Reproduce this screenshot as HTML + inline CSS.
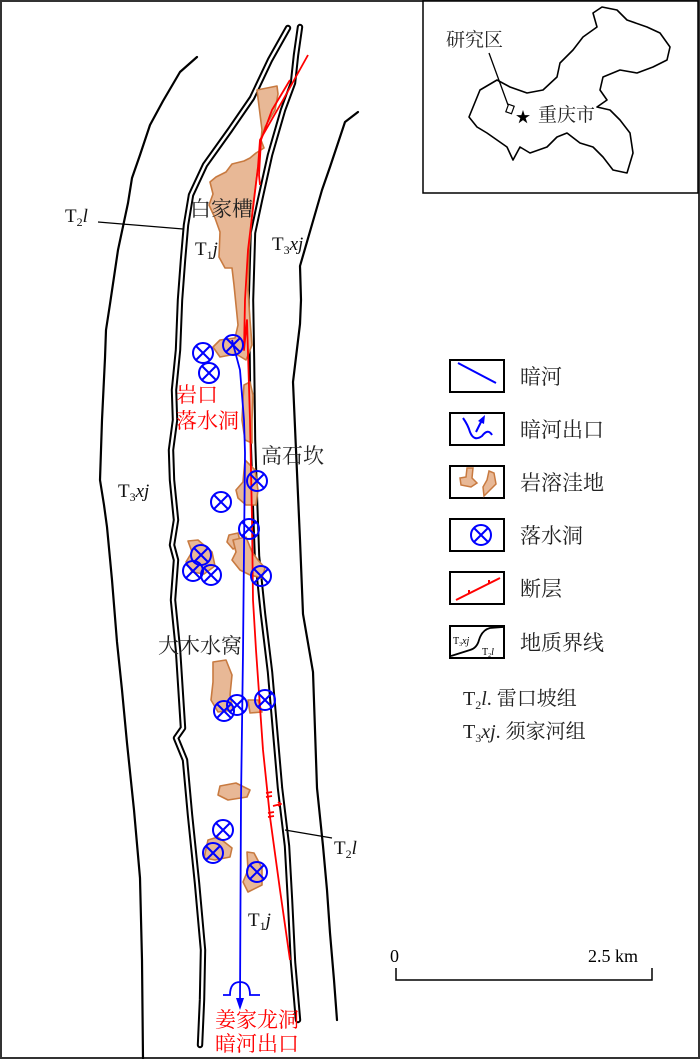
<!DOCTYPE html>
<html><head><meta charset="utf-8"><style>
html,body{margin:0;padding:0;background:#fff}
svg{display:block}
text{font-family:"Liberation Serif","Noto Serif CJK SC","Noto Sans CJK SC",serif}
.cn{font-family:"Liberation Serif","Noto Serif CJK SC",serif}
</style></head><body>
<svg width="700" height="1059" viewBox="0 0 700 1059" xmlns="http://www.w3.org/2000/svg">
<rect x="1" y="1" width="698" height="1057" fill="#fff" stroke="#333" stroke-width="2"/>
<g fill="none" stroke="#000" stroke-linejoin="round" stroke-linecap="round">
<polyline stroke-width="2.2" points="197,57 180,72 163,101 150,125 140,155 132,178 128,203 118,250 110,304 106,330 105,358 102,420 100,480 104,505 107,527 112,580 117,642 122,690 127,743 134,810 140,878 142,960 143,1059"/>
<polyline stroke-width="2.2" points="358,112 345,122 330,167 322,190 300,266 301,300 300,324 293,382 296,450 300,540 303,614 313,672 315,730 317,788 323,846 327,890 330,933 334,980 337,1020"/>
<polyline stroke-width="6.4" points="288,28 270,60 252,98 230,130 205,165 191,195 186,225 183,260 180,300 178,350 174,390 175,420 171,450 172,480 176,520 172,545 176,560 173,600 178,650 183,728 176,738 185,760 190,815 197,883 203,950 202,1000 200,1045"/>
<polyline stroke="#fff" stroke-width="2.4" points="288,28 270,60 252,98 230,130 205,165 191,195 186,225 183,260 180,300 178,350 174,390 175,420 171,450 172,480 176,520 172,545 176,560 173,600 178,650 183,728 176,738 185,760 190,815 197,883 203,950 202,1000 200,1045"/>
<polyline stroke-width="6.4" points="300,27 296,55 293,83 283,110 270,155 260,200 253,233 251,300 252,360 253,440 255,500 257,556 263,614 270,672 275,730 280,788 287,846 290,900 293,962 298,1020"/>
<polyline stroke="#fff" stroke-width="2.4" points="300,27 296,55 293,83 283,110 270,155 260,200 253,233 251,300 252,360 253,440 255,500 257,556 263,614 270,672 275,730 280,788 287,846 290,900 293,962 298,1020"/>
</g>
<g fill="#e8b896" stroke="#c87a40" stroke-width="1.6" stroke-linejoin="round">
<path d="M257,90 L277,86 L278,94 L275,110 L265,127 L261,140 L264,148 L256,153 L250,158 L244,161 L232,164 L226,172 L216,177 L210,182 L213,194 L209,205 L215,218 L220,232 L219,257 L225,268 L232,268 L234,285 L236,305 L238,325 L235,338 L220,340 L213,347 L220,357 L236,354 L246,360 L252,345 L250,320 L248,290 L249,250 L252,215 L255,190 L258,167 L260,150 L262,130 Z"/>
<path d="M244,385 L250,382 L253,395 L252,420 L252,443 L245,440 L242,420 L243,400 Z"/>
<path d="M245,460 L255,470 L258,490 L256,505 L246,505 L238,498 L236,490 L243,482 Z"/>
<path d="M229,535 L238,533 L241,545 L233,549 L227,542 Z"/>
<path d="M233,540 L246,537 L252,552 L258,560 L265,568 L262,578 L250,575 L240,570 L232,560 L236,552 Z"/>
<path d="M188,541 L198,540 L212,552 L215,566 L204,574 L192,572 L186,562 L192,552 Z"/>
<path d="M213,662 L226,660 L232,675 L230,695 L233,710 L218,712 L211,700 L213,682 Z"/>
<path d="M248,700 L258,700 L262,712 L250,713 Z"/>
<path d="M220,786 L236,783 L250,790 L247,797 L228,800 L218,795 Z"/>
<path d="M208,840 L218,837 L232,848 L230,857 L215,860 L204,858 Z"/>
<path d="M247,852 L254,853 L262,868 L262,885 L248,892 L243,882 L248,870 Z"/>
</g>
<g fill="none" stroke="#f00" stroke-width="1.8" stroke-linejoin="round">
<polyline points="308,55 283,100 260,140 258,167 254,200 248,250 245,300 244,350 247,320 250,420 252,520 253,600 256,650 263,750 270,817 280,890 290,960"/>
<polyline points="290,80 272,110 261,140 259,175 260,185"/>
<path d="M266,793 l6,-1 M266,797 l6,-1 M268,813 l6,-1 M268,817 l6,-1 M273,806 l8,-2 M278,802 l3,2 l-3,2"/>
</g>
<g fill="none" stroke="#0000ff" stroke-width="1.8">
<polyline points="232,340 240,370 244,420 245,453 244,550 243,653 241,800 240,1000"/>
<path d="M223,995 L230,995 Q230,982 240,982 Q250,982 250,995 L260,995"/>
</g>
<polygon points="236,998 244,998 240,1010" fill="#0000ff"/>
<g fill="none" stroke="#0000ff" stroke-width="2">
<g transform="translate(203,353)"><circle r="10"/><path d="M-7,-7L7,7M7,-7L-7,7"/></g>
<g transform="translate(209,373)"><circle r="10"/><path d="M-7,-7L7,7M7,-7L-7,7"/></g>
<g transform="translate(233,345)"><circle r="10"/><path d="M-7,-7L7,7M7,-7L-7,7"/></g>
<g transform="translate(221,502)"><circle r="10"/><path d="M-7,-7L7,7M7,-7L-7,7"/></g>
<g transform="translate(257,481)"><circle r="10"/><path d="M-7,-7L7,7M7,-7L-7,7"/></g>
<g transform="translate(249,529)"><circle r="10"/><path d="M-7,-7L7,7M7,-7L-7,7"/></g>
<g transform="translate(261,576)"><circle r="10"/><path d="M-7,-7L7,7M7,-7L-7,7"/></g>
<g transform="translate(201,555)"><circle r="10"/><path d="M-7,-7L7,7M7,-7L-7,7"/></g>
<g transform="translate(193,571)"><circle r="10"/><path d="M-7,-7L7,7M7,-7L-7,7"/></g>
<g transform="translate(211,575)"><circle r="10"/><path d="M-7,-7L7,7M7,-7L-7,7"/></g>
<g transform="translate(224,711)"><circle r="10"/><path d="M-7,-7L7,7M7,-7L-7,7"/></g>
<g transform="translate(237,705)"><circle r="10"/><path d="M-7,-7L7,7M7,-7L-7,7"/></g>
<g transform="translate(265,700)"><circle r="10"/><path d="M-7,-7L7,7M7,-7L-7,7"/></g>
<g transform="translate(223,830)"><circle r="10"/><path d="M-7,-7L7,7M7,-7L-7,7"/></g>
<g transform="translate(213,853)"><circle r="10"/><path d="M-7,-7L7,7M7,-7L-7,7"/></g>
<g transform="translate(257,872)"><circle r="10"/><path d="M-7,-7L7,7M7,-7L-7,7"/></g>
</g>
<g stroke="#000" stroke-width="1.3">
<line x1="98" y1="222" x2="183" y2="229"/>
<line x1="285" y1="830" x2="332" y2="838"/>
</g>
<g class="cn" font-size="21" fill="#222">
<text x="190" y="216">白家槽</text>
<text x="261" y="463">高石坎</text>
<text x="158" y="653">大木水窝</text>
</g>
<g class="cn" font-size="21" fill="#f00">
<text x="176" y="402">岩口</text>
<text x="176" y="428">落水洞</text>
<text x="257" y="1027" text-anchor="middle">姜家龙洞</text>
<text x="257" y="1051" text-anchor="middle">暗河出口</text>
</g>
<g font-size="19" fill="#111">
<text x="65" y="222">T<tspan font-size="12" dy="4">2</tspan><tspan dy="-4" font-style="italic">l</tspan></text>
<text x="195" y="255">T<tspan font-size="12" dy="4">1</tspan><tspan dy="-4" font-style="italic">j</tspan></text>
<text x="272" y="250">T<tspan font-size="12" dy="4">3</tspan><tspan dy="-4" font-style="italic">xj</tspan></text>
<text x="118" y="497">T<tspan font-size="12" dy="4">3</tspan><tspan dy="-4" font-style="italic">xj</tspan></text>
<text x="334" y="854">T<tspan font-size="12" dy="4">2</tspan><tspan dy="-4" font-style="italic">l</tspan></text>
<text x="248" y="926">T<tspan font-size="12" dy="4">1</tspan><tspan dy="-4" font-style="italic">j</tspan></text>
</g>
<text x="390" y="962" font-size="18">0</text>
<text x="588" y="962" font-size="18">2.5 km</text>
<polyline points="396,968 396,980 652,980 652,968" fill="none" stroke="#000" stroke-width="1.5"/>
<rect x="423" y="1" width="275" height="192" fill="#fff" stroke="#000" stroke-width="1.5"/>
<polygon fill="none" stroke="#000" stroke-width="1.6" stroke-linejoin="round" points="469,117 480,90 497,80 510,87 527,93 543,90 557,77 560,63 573,50 583,37 597,27 593,13 602,7 617,10 627,20 647,27 660,33 670,47 667,60 653,67 637,73 620,70 603,77 600,90 607,100 597,107 610,110 620,120 630,133 633,153 627,173 613,170 603,157 593,147 580,143 567,133 557,137 547,147 530,153 520,147 513,160 507,147 487,133 477,127"/>
<line x1="489" y1="53" x2="508" y2="105" stroke="#000" stroke-width="1.3"/>
<rect x="507" y="105" width="6" height="8" fill="#fff" stroke="#000" stroke-width="1.2" transform="rotate(20 510 109)"/>
<text x="523" y="122" font-size="15" text-anchor="middle">★</text>
<g class="cn" font-size="19" fill="#222">
<text x="446" y="46">研究区</text>
<text x="538" y="121">重庆市</text>
</g>
<g fill="#fff" stroke="#000" stroke-width="2">
<rect x="450" y="360" width="54" height="32"/>
<rect x="450" y="413" width="54" height="32"/>
<rect x="450" y="466" width="54" height="32"/>
<rect x="450" y="519" width="54" height="32"/>
<rect x="450" y="572" width="54" height="32"/>
<rect x="450" y="626" width="54" height="32"/>
</g>
<line x1="458" y1="363" x2="496" y2="383" stroke="#0000ff" stroke-width="2"/>
<path d="M463,418 Q468,425 470,432 Q474,442 482,436 Q488,428 492,435" fill="none" stroke="#0000ff" stroke-width="2"/>
<line x1="476" y1="432" x2="482" y2="420" stroke="#0000ff" stroke-width="2"/>
<polygon points="485,415 478,421 484,424" fill="#0000ff"/>
<g fill="#e8b896" stroke="#c87a40" stroke-width="1.5">
<path d="M467,468 L473,468 L472,478 L477,483 L471,487 L461,485 L460,478 L466,477 Z"/>
<path d="M489,471 L494,473 L496,484 L490,490 L484,496 L483,487 L487,480 Z"/>
</g>
<g transform="translate(481,535)" fill="none" stroke="#0000ff" stroke-width="2"><circle r="10"/><path d="M-7,-7L7,7M7,-7L-7,7"/></g>
<line x1="456" y1="600" x2="500" y2="578" stroke="#f00" stroke-width="2"/>
<path d="M469,593 l0,-3 M489,583 l0,-3" stroke="#f00" stroke-width="2"/>
<path d="M451,656 L470,650 Q477,648 479,640 Q482,630 490,628 L503,627" fill="none" stroke="#000" stroke-width="1.8"/>
<text x="453" y="644" font-size="10">T<tspan font-size="6" dy="2">3</tspan><tspan dy="-2" font-style="italic">xj</tspan></text>
<text x="482" y="655" font-size="10">T<tspan font-size="6" dy="2">2</tspan><tspan dy="-2" font-style="italic">l</tspan></text>
<g class="cn" font-size="21" fill="#222">
<text x="520" y="384">暗河</text>
<text x="520" y="437">暗河出口</text>
<text x="520" y="490">岩溶洼地</text>
<text x="520" y="543">落水洞</text>
<text x="520" y="596">断层</text>
<text x="520" y="650">地质界线</text>
</g>
<text x="463" y="705" font-size="20" fill="#222">T<tspan font-size="12" dy="4">2</tspan><tspan dy="-4" font-style="italic">l</tspan>. 雷口坡组</text>
<text x="463" y="738" font-size="20" fill="#222">T<tspan font-size="12" dy="4">3</tspan><tspan dy="-4" font-style="italic">xj</tspan>. 须家河组</text>
</svg>
</body></html>
